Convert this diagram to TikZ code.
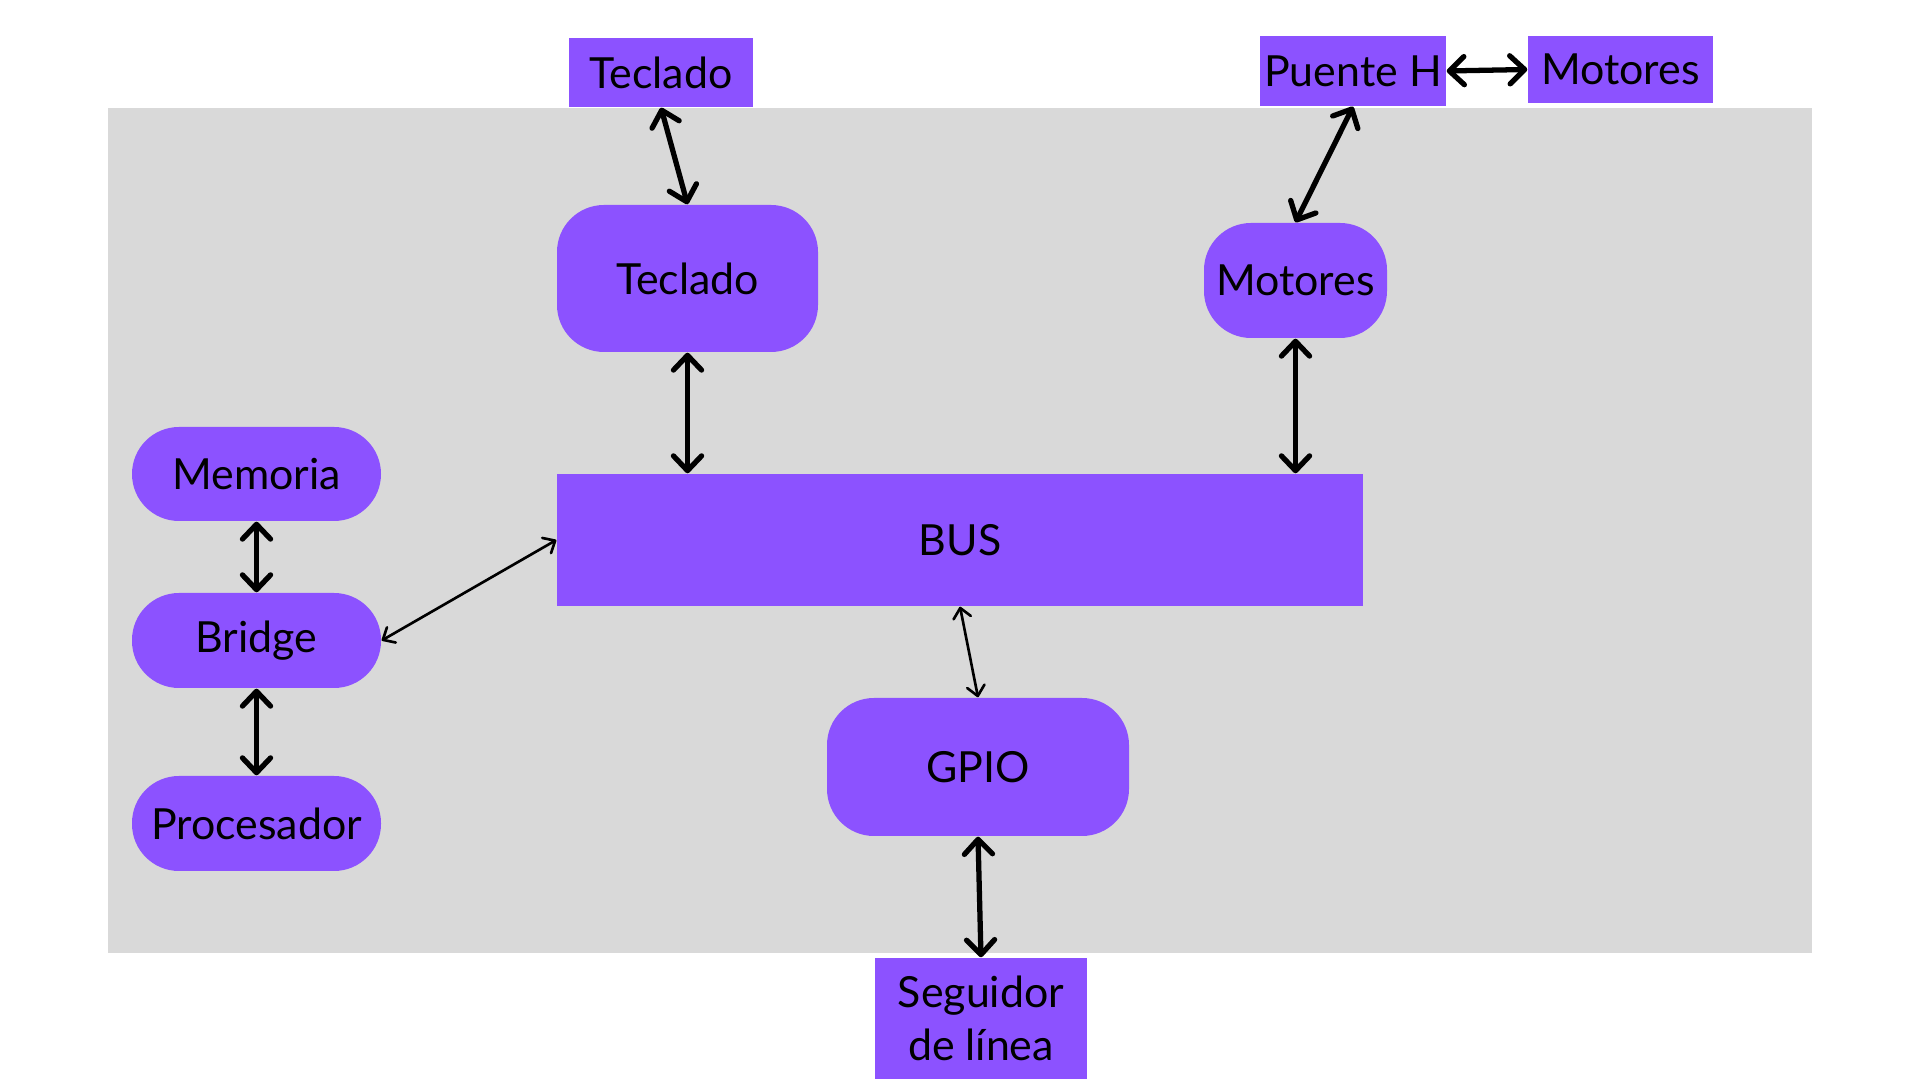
\documentclass[tikz,border=0pt]{standalone}
\usepackage{fontspec}
\setmainfont{Lato}
\usetikzlibrary{arrows.meta}
\definecolor{morado}{HTML}{8C52FF}
\definecolor{fondo}{HTML}{D9D9D9}
\begin{document}
\begin{tikzpicture}[
    caja/.style={fill=morado, inner sep=0pt, font=\fontsize{12.2}{15}\selectfont, align=center},
    pastilla/.style={caja, rounded corners=0.47cm},
    flecha/.style={{Straight Barb[length=4.2pt,width=8pt,round]}-{Straight Barb[length=4.2pt,width=8pt,round]}, line width=1.5pt},
    flechafina/.style={{Straight Barb[length=2.8pt,width=5pt,round]}-{Straight Barb[length=2.8pt,width=5pt,round]}, line width=0.75pt}
  ]
  % Marco de la imagen y placa gris
  \useasboundingbox[fill=white] (0,0) rectangle (19.2,10.8);
  \fill[fondo] (1.08,1.27) rectangle (18.12,9.72);

  % Bloques externos (rectangulares)
  \node[caja, minimum width=1.84cm, minimum height=0.69cm] (tecext) at (6.61,10.075) {Teclado};
  \node[caja, minimum width=1.86cm, minimum height=0.70cm] (puente) at (13.53,10.09) {Puente H};
  \node[caja, minimum width=1.85cm, minimum height=0.67cm] (motext) at (16.205,10.105) {Motores};
  \node[caja, minimum width=2.12cm, minimum height=1.21cm] (seguidor) at (9.81,0.615) {Seguidor\\de línea};

  % Bloques internos
  \node[pastilla, minimum width=2.61cm, minimum height=1.47cm] (teclado) at (6.875,8.015) {Teclado};
  \node[pastilla, minimum width=1.83cm, minimum height=1.15cm] (motores) at (12.955,7.995) {Motores};
  \node[pastilla, minimum width=2.49cm, minimum height=0.94cm] (memoria) at (2.565,6.06) {Memoria};
  \node[pastilla, minimum width=2.49cm, minimum height=0.95cm] (bridge) at (2.565,4.395) {Bridge};
  \node[pastilla, minimum width=2.49cm, minimum height=0.95cm] (procesador) at (2.565,2.565) {Procesador};
  \node[caja, minimum width=8.06cm, minimum height=1.32cm] (bus) at (9.60,5.40) {BUS};
  \node[pastilla, minimum width=3.02cm, minimum height=1.38cm] (gpio) at (9.78,3.13) {GPIO};

  % Conexiones
  \draw[flecha] (tecext.south) -- (teclado.north);
  \draw[flecha] (teclado.south) -- (teclado.south |- bus.north);
  \draw[flecha] (motores.south) -- (motores.south |- bus.north);
  \draw[flecha] (motores.north) -- (puente.south);
  \draw[flecha] (puente.east) -- (motext.west);
  \draw[flecha] (memoria.south) -- (bridge.north);
  \draw[flecha] (bridge.south) -- (procesador.north);
  \draw[flechafina] (bridge.east) -- (bus.west);
  \draw[flechafina] (bus.south) -- (gpio.north);
  \draw[flecha] (gpio.south) -- (seguidor.north);
\end{tikzpicture}
\end{document}
